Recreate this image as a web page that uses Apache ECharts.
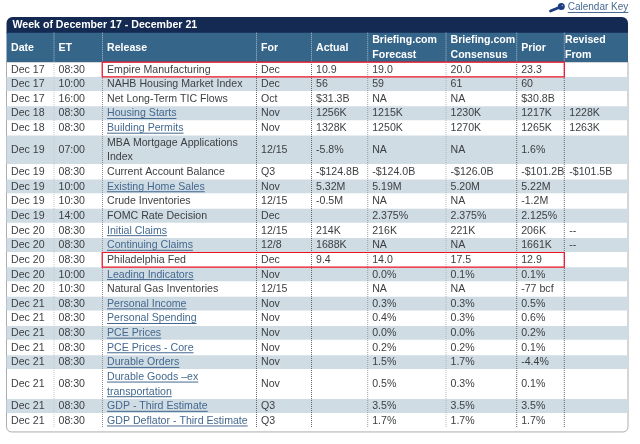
<!DOCTYPE html>
<html><head><meta charset="utf-8">
<style>html,body{margin:0;padding:0;background:#fff}#c{width:640px;height:444px}</style>
<script src="https://cdn.jsdelivr.net/npm/echarts@6/dist/echarts.min.js"></script>
</head><body><div id="c"></div>
<script>
const title = "Week of December 17 - December 21";
const keyLabel = "Calendar Key";
const headers = ["Date","ET","Release","For","Actual","Briefing.com\nForecast","Briefing.com\nConsensus","Prior","Revised\nFrom"];
const dates = ["Dec 17","Dec 17","Dec 17","Dec 18","Dec 18","Dec 19","Dec 19","Dec 19","Dec 19","Dec 19","Dec 20","Dec 20","Dec 20","Dec 20","Dec 20","Dec 21","Dec 21","Dec 21","Dec 21","Dec 21","Dec 21","Dec 21","Dec 21"];
const times = ["08:30","10:00","16:00","08:30","08:30","07:00","08:30","10:00","10:30","14:00","08:30","08:30","08:30","10:00","10:30","08:30","08:30","08:30","08:30","08:30","08:30","08:30","08:30"];
const releases = ["Empire Manufacturing","NAHB Housing Market Index","Net Long-Term TIC Flows","Housing Starts","Building Permits","MBA Mortgage Applications\nIndex","Current Account Balance","Existing Home Sales","Crude Inventories","FOMC Rate Decision","Initial Claims","Continuing Claims","Philadelphia Fed","Leading Indicators","Natural Gas Inventories","Personal Income","Personal Spending","PCE Prices","PCE Prices - Core","Durable Orders","Durable Goods \u2013ex\ntransportation","GDP - Third Estimate","GDP Deflator - Third Estimate"];
const periods = ["Dec","Dec","Oct","Nov","Nov","12/15","Q3","Nov","12/15","Dec","12/15","12/8","Dec","Nov","12/15","Nov","Nov","Nov","Nov","Nov","Nov","Q3","Q3"];
const actual = ["10.9","56","$31.3B","1256K","1328K","-5.8%","-$124.8B","5.32M","-0.5M","","214K","1688K","9.4","","","","","","","","","",""];
const forecast = ["19.0","59","NA","1215K","1250K","NA","-$124.0B","5.19M","NA","2.375%","216K","NA","14.0","0.0%","NA","0.3%","0.4%","0.0%","0.2%","1.5%","0.5%","3.5%","1.7%"];
const consensus = ["20.0","61","NA","1230K","1270K","NA","-$126.0B","5.20M","NA","2.375%","221K","NA","17.5","0.1%","NA","0.3%","0.3%","0.0%","0.2%","1.7%","0.3%","3.5%","1.7%"];
const prior = ["23.3","60","$30.8B","1217K","1265K","1.6%","-$101.2B","5.22M","-1.2M","2.125%","206K","1661K","12.9","0.1%","-77 bcf","0.5%","0.6%","0.2%","0.1%","-4.4%","0.1%","3.5%","1.7%"];
const revised = ["","","","1228K","1263K","","-$101.5B","","","","--","--","","","","","","","","","","",""];
const linked = ["Housing Starts","Building Permits","Existing Home Sales","Initial Claims","Continuing Claims","Leading Indicators","Personal Income","Personal Spending","PCE Prices","PCE Prices - Core","Durable Orders","Durable Goods \u2013ex\ntransportation","GDP - Third Estimate","GDP Deflator - Third Estimate"];
const highlighted = ["Empire Manufacturing","Philadelphia Fed"];

// layout of the table (not data)
const columnEdges = [6.5,54,102.5,256.5,311.5,367.7,446,516.7,564.3,628];
const ruleColors = ["#c4c8cb","#8b8f92","#66696c","#66696c","#9a9ea1","#b4b8ba","#66696c","#66696c"];
const F = "10.6px 'Liberation Sans', Arial, sans-serif";
const FB = "bold 10.6px 'Liberation Sans', Arial, sans-serif";
const KF = "10px 'Liberation Sans', Arial, sans-serif";
const INK = "#3c3f42", LINK = "#44688e";

const columns = [dates,times,releases,periods,actual,forecast,consensus,prior,revised];
const rowLines = releases.map(r => r.split("\n").length);
const rowTops = []; rowLines.reduce((s,n,i)=>{rowTops[i]=s;return s+n;},0);
const totalLines = rowLines.reduce((a,b)=>a+b,0);
const ctx = document.createElement("canvas").getContext("2d");
function width(t,f){ctx.font=f;return ctx.measureText(t).width;}

function renderFrame(p, api){
  const tl=api.coord([columnEdges[0],-3.07]), hd=api.coord([columnEdges[0],-2]), h0=api.coord([columnEdges[0],0]);
  const br=api.coord([columnEdges[9],25.27]);
  const w=br[0]-tl[0];
  return {type:"group",children:[
    {type:"rect",shape:{x:tl[0],y:h0[1],width:w,height:br[1]-h0[1],r:[0,0,5,5]},style:{fill:"#fff",stroke:"#a9adb0",lineWidth:1}},
    {type:"rect",shape:{x:tl[0],y:tl[1],width:w,height:hd[1]-tl[1]+1,r:[6,6,0,0]},style:{fill:"#142a52"}},
    {type:"rect",shape:{x:hd[0],y:hd[1],width:w,height:h0[1]-hd[1]},style:{fill:"#36658a"}},
    {type:"text",style:{x:tl[0]+6,y:(tl[1]+hd[1])/2+0.5,text:title,fill:"#fff",font:FB,verticalAlign:"middle"}}
  ]};
}
function renderBand(p, api){
  const i=api.value(0); if(i%2===0) return {type:"group",children:[]};
  const a=api.coord([columnEdges[0],rowTops[i]]), b=api.coord([columnEdges[9],rowTops[i]+rowLines[i]]);
  return {type:"rect",shape:{x:a[0],y:a[1]+0.4,width:b[0]-a[0],height:b[1]-a[1]-0.8},style:{fill:"#cfdce4"}};
}
function renderRule(p, api){
  const k=api.value(0), x=columnEdges[k+1];
  const a=api.coord([x,-2]), m=api.coord([x,0]), b=api.coord([x,totalLines]);
  return {type:"group",children:[
    {type:"line",shape:{x1:a[0],y1:a[1],x2:m[0],y2:m[1]},style:{stroke:"#a9bccb",lineWidth:1,lineDash:[1,1]}},
    {type:"line",shape:{x1:m[0],y1:m[1],x2:b[0],y2:b[1]},style:{stroke:ruleColors[k],lineWidth:1,lineDash:[1,1]}}
  ]};
}
function renderHeader(p, api){
  const k=api.value(0), lines=headers[k].split("\n");
  const x=api.coord([columnEdges[k],0])[0]+(k===8?0.7:4.5);
  const unit=api.size([0,1])[1];
  const mid=api.coord([0,-1])[1];
  return {type:"group",children:lines.map((t,j)=>({type:"text",style:{
    x:x,y:mid+(j-(lines.length-1)/2)*unit+0.4,text:t,fill:"#fff",font:FB,verticalAlign:"middle"}}))};
}
function renderRow(p, api){
  const i=api.value(0), children=[];
  const unit=api.size([0,1])[1];
  columns.forEach((col,k)=>{
    const txt=col[i]; if(!txt) return;
    const x=api.coord([columnEdges[k],0])[0]+(k===8?5:4.5);
    const isLink=k===2&&linked.includes(txt);
    const lines=txt.split("\n");
    const mid=api.coord([0,rowTops[i]+rowLines[i]/2])[1];
    lines.forEach((t,j)=>{
      const y=mid+(j-(lines.length-1)/2)*unit+0.3;
      children.push({type:"text",style:{x:x,y:y,text:t,fill:isLink?LINK:INK,font:F,verticalAlign:"middle"}});
      if(isLink) children.push({type:"line",shape:{x1:x,y1:y+5,x2:x+width(t,F),y2:y+5},style:{stroke:LINK,lineWidth:1}});
    });
  });
  return {type:"group",children};
}
function renderBox(p, api){
  const i=releases.indexOf(highlighted[api.value(0)]);
  const a=api.coord([columnEdges[2],rowTops[i]]), b=api.coord([columnEdges[8],rowTops[i]+rowLines[i]]);
  return {type:"rect",shape:{x:a[0]-0.3,y:a[1]+0.2,width:b[0]-a[0]+0.3,height:b[1]-a[1]},style:{fill:"none",stroke:"#ee1122",lineWidth:1.2}};
}
const idx=a=>a.map((_,i)=>[i]);
const custom=(renderItem,data,z)=>({type:"custom",coordinateSystem:"cartesian2d",renderItem,data,z,clip:false,silent:true,encode:{x:0,y:0},animation:false});

const chart=echarts.init(document.getElementById("c"),null,{renderer:"canvas"});
const kx=567.7, ky=7.3;
chart.setOption({
  animation:false,
  backgroundColor:"#fff",
  grid:{left:0,right:0,top:62,height:14.64*totalLines},
  xAxis:{type:"value",min:0,max:640,show:false},
  yAxis:{type:"value",min:0,max:totalLines,inverse:true,show:false},
  graphic:[
    {type:"line",z:20,shape:{x1:550.5,y1:11,x2:559,y2:7.5},style:{stroke:"#1d3c82",lineWidth:2.8,lineCap:"round"}},
    {type:"circle",z:20,shape:{cx:561.3,cy:6.6,r:3.5},style:{fill:"#1d3c82"}},
    {type:"circle",z:20,shape:{cx:562.3,cy:5.6,r:0.8},style:{fill:"#8fa3c8"}},
    {type:"text",z:20,style:{x:kx,y:ky,text:keyLabel,fill:"#49698f",font:KF,verticalAlign:"middle"}},
    {type:"line",z:20,shape:{x1:kx,y1:ky+5.2,x2:kx+width(keyLabel,KF),y2:ky+5.2},style:{stroke:"#49698f",lineWidth:1}}
  ],
  series:[
    custom(renderFrame,[[0]],1),
    custom(renderBand,idx(releases),2),
    custom(renderRule,idx(ruleColors),3),
    custom(renderHeader,idx(headers),4),
    custom(renderRow,idx(releases),5),
    custom(renderBox,idx(highlighted),6)
  ]
});
</script></body></html>
